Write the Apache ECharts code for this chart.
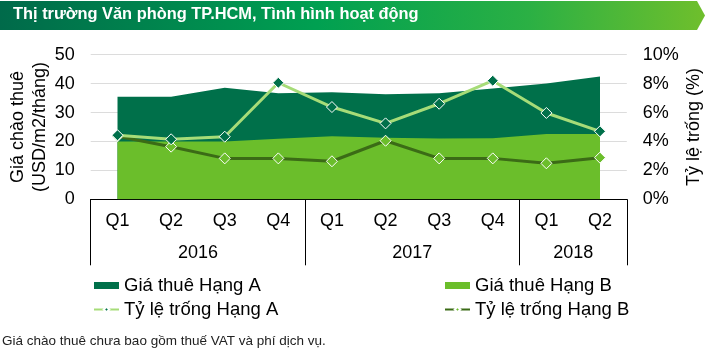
<!DOCTYPE html>
<html><head><meta charset="utf-8">
<script src="https://cdn.jsdelivr.net/npm/echarts@6/dist/echarts.min.js"></script>
<style>html,body{margin:0;padding:0;background:#fff}#c{width:717px;height:355px}</style>
</head><body><div id="c"></div>
<script>
const quarters = ['Q1','Q2','Q3','Q4','Q1','Q2','Q3','Q4','Q1','Q2'];
const years = ['2016','2017','2018'];
const yearCenters = [2, 6, 9];
const yearBounds = [0, 4, 8, 10];
const rentA = [35.5, 35.5, 38.6, 36.7, 37.0, 36.3, 36.7, 38.3, 40.0, 42.5];
const rentB = [20.0, 20.0, 20.0, 20.9, 21.8, 21.3, 21.0, 21.1, 22.6, 22.6];
const vacA = [4.43, 4.15, 4.33, 8.06, 6.38, 5.25, 6.61, 8.2, 5.97, 4.7];
const vacB = [4.36, 3.64, 2.83, 2.83, 2.63, 4.05, 2.83, 2.83, 2.49, 2.88];
const leftTicks = [0, 10, 20, 30, 40, 50];
const rightTicks = [0, 2, 4, 6, 8, 10];

const F = 'Liberation Sans, Arial, sans-serif';
const darkG = '#00704a', lightG = '#6bbe2b', lineA = '#a6dc78', lineB = '#3b6b16';
const chart = echarts.init(document.getElementById('c'), null, {renderer: 'canvas'});
chart.setOption({
  animation: false,
  textStyle: {fontFamily: F},
  graphic: [
    {type: 'polygon', shape: {points: [[0,1],[697,1],[705,15.5],[697,30],[0,30]]},
     style: {fill: new echarts.graphic.LinearGradient(0,0,1,0,[
       {offset:0,color:'#006a4a'},{offset:0.45,color:'#00a051'},{offset:0.75,color:'#2bb044'},{offset:1,color:'#6fbf2c'}])}},
    {type: 'text', left: 13, top: 6, style: {text: 'Thị trường Văn phòng TP.HCM, Tình hình hoạt động', fill: '#fff',
      font: 'bold 16.4px "Liberation Sans", Arial, sans-serif'}},
    {type: 'text', left: 2, top: 334, style: {text: 'Giá chào thuê chưa bao gồm thuế VAT và phí dịch vụ.', fill: '#222',
      font: '13.5px "Liberation Sans", Arial, sans-serif'}}
  ],
  grid: {left: 90.7, right: 90.2, top: 54.7, bottom: 155.7, containLabel: false, outerBoundsMode: 'none'},
  legend: [
    {left: 88, top: 271, orient: 'vertical', itemGap: 5, itemWidth: 25, itemHeight: 7,
     textStyle: {fontSize: 18.5, color: '#000', fontFamily: F},
     data: [{name: 'Giá thuê Hạng A', icon: 'rect'}, {name: 'Tỷ lệ trống Hạng A'}]},
    {left: 439, top: 271, orient: 'vertical', itemGap: 5, itemWidth: 25, itemHeight: 7,
     textStyle: {fontSize: 18.5, color: '#000', fontFamily: F},
     data: [{name: 'Giá thuê Hạng B', icon: 'rect'}, {name: 'Tỷ lệ trống Hạng B'}]}
  ],
  xAxis: [
    {type: 'category', data: quarters, position: 'bottom', boundaryGap: true,
     axisLine: {show: true, lineStyle: {color: '#000', width: 1}},
     axisTick: {show: false},
     axisLabel: {fontSize: 18, color: '#000', margin: 13, interval: 0}},
    {type: 'value', min: 0, max: 10, position: 'bottom',
     axisLine: {show: true, lineStyle: {color: '#000', width: 1}},
     axisTick: {show: true, customValues: yearBounds, length: 66, lineStyle: {color: '#000', width: 1}},
     axisLabel: {show: true, customValues: yearCenters, fontSize: 18, color: '#000', margin: 45,
       formatter: v => years[yearCenters.indexOf(v)]},
     splitLine: {show: false}}
  ],
  yAxis: [
    {type: 'value', min: 0, max: 50, interval: 10, position: 'left',
     name: 'Giá chào thuê\n(USD/m2/tháng)', nameLocation: 'middle', nameRotate: 90, nameGap: 40,
     nameMoveOverlap: false,
     nameTextStyle: {fontSize: 18, color: '#000', lineHeight: 22},
     axisLine: {show: false}, axisTick: {show: false},
     axisLabel: {fontSize: 18, color: '#000', margin: 16, formatter: v => leftTicks.includes(v) ? String(v) : ''},
     splitLine: {show: true, lineStyle: {color: '#dcdcdc', width: 1.2}}},
    {type: 'value', min: 0, max: 10, interval: 2, position: 'right',
     name: 'Tỷ lệ trống (%)', nameLocation: 'middle', nameRotate: 90, nameGap: 58,
     nameMoveOverlap: false,
     nameTextStyle: {fontSize: 18, color: '#000'},
     axisLine: {show: false}, axisTick: {show: false},
     axisLabel: {fontSize: 18, color: '#000', margin: 16, formatter: v => rightTicks.includes(v) ? v + '%' : ''},
     splitLine: {show: false}}
  ],
  series: [
    {name: 'Giá thuê Hạng A', type: 'line', xAxisIndex: 0, yAxisIndex: 0, data: rentA,
     symbol: 'none', lineStyle: {width: 0, color: darkG}, itemStyle: {color: darkG},
     areaStyle: {color: darkG, opacity: 1}, z: 1},
    {name: 'Giá thuê Hạng B', type: 'line', xAxisIndex: 0, yAxisIndex: 0, data: rentB,
     symbol: 'none', lineStyle: {width: 0, color: lightG}, itemStyle: {color: lightG},
     areaStyle: {color: lightG, opacity: 1}, z: 2},
    {name: 'Tỷ lệ trống Hạng A', type: 'line', xAxisIndex: 0, yAxisIndex: 1, data: vacA,
     symbol: 'diamond', symbolSize: 11, lineStyle: {width: 3, color: lineA},
     itemStyle: {color: darkG, borderColor: '#fff', borderWidth: 1}, z: 4},
    {name: 'Tỷ lệ trống Hạng B', type: 'line', xAxisIndex: 0, yAxisIndex: 1, data: vacB,
     symbol: 'diamond', symbolSize: 11, lineStyle: {width: 3, color: lineB},
     itemStyle: {color: lightG, borderColor: '#fff', borderWidth: 1}, z: 3}
  ]
});
</script></body></html>
